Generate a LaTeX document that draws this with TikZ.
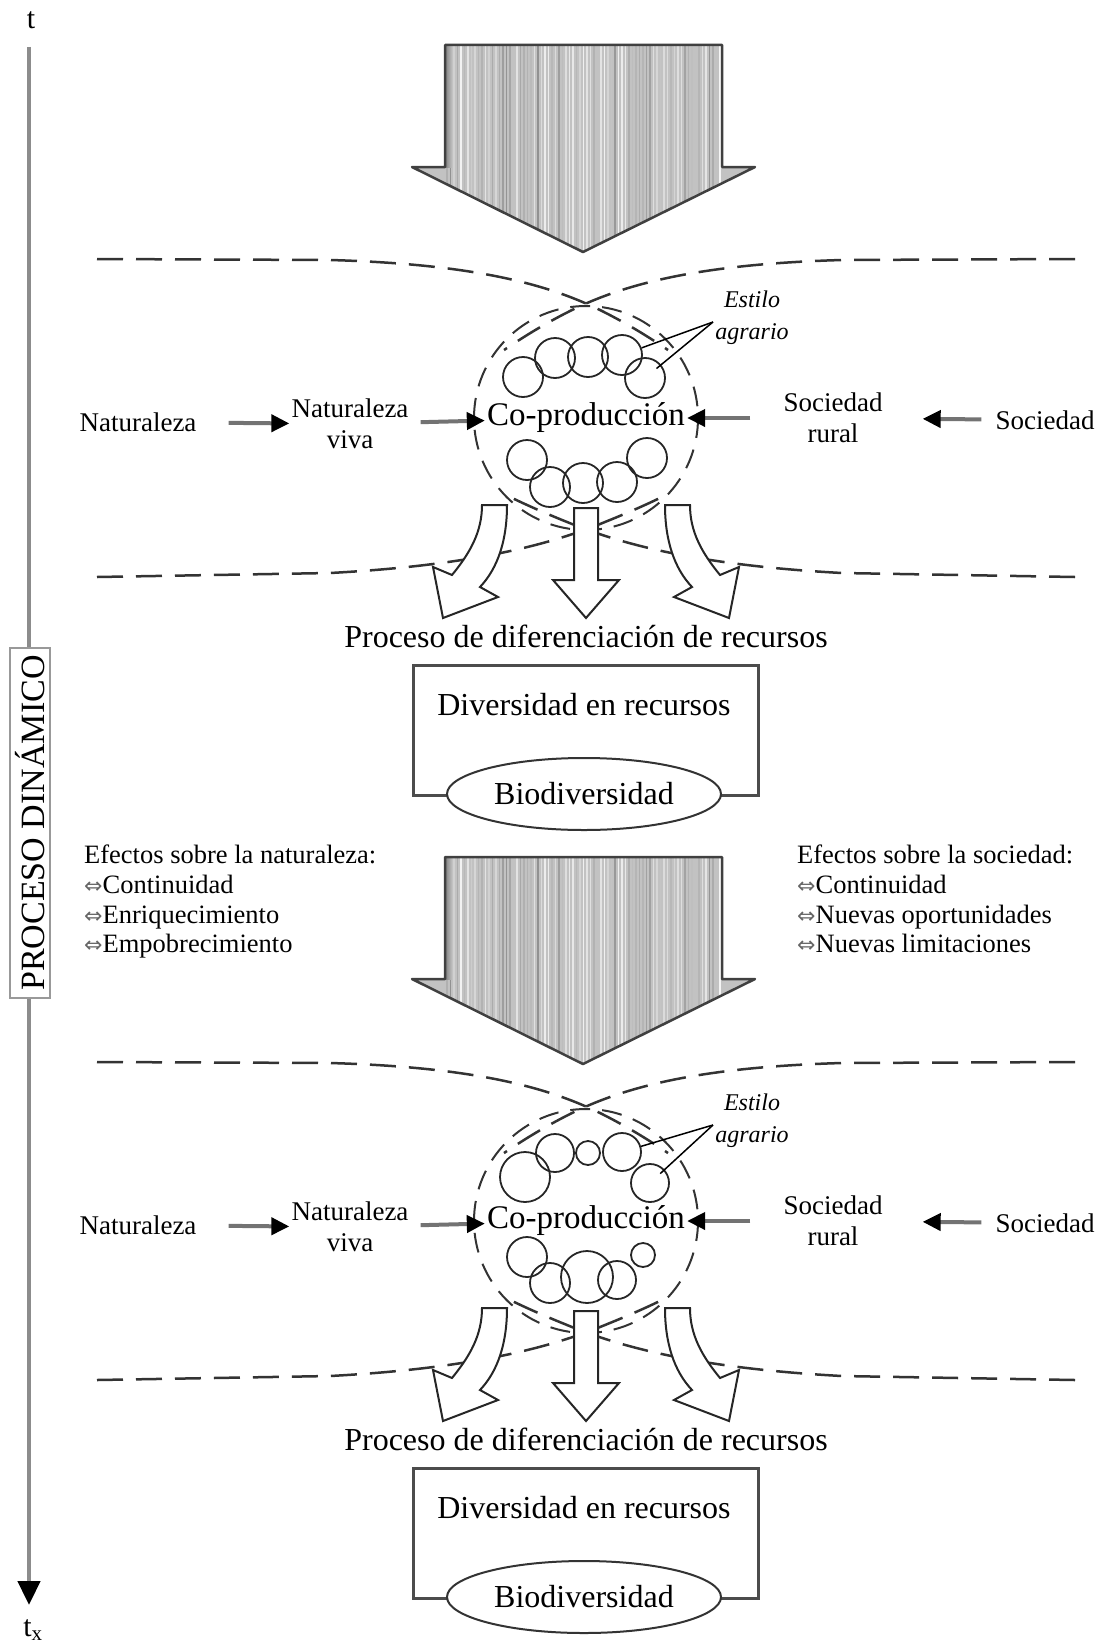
\documentclass[tikz,border=0pt]{standalone}
\usepackage{fontspec}
\setmainfont{Liberation Serif}
\newfontfamily\simbolos{DejaVu Sans}
\usetikzlibrary{arrows.meta,shapes.geometric,positioning}

\newcommand{\flechita}{{\simbolos\fontsize{22}{22}\selectfont\color{black!60}⇔}}

\tikzset{
  texto/.style={font=\fontsize{27}{31}\selectfont, align=center, inner sep=2pt},
  grande/.style={font=\fontsize{32}{36}\selectfont, inner sep=2pt},
  copro/.style={font=\fontsize{33}{36}\selectfont, inner sep=2pt},
  estilo/.style={font=\fontsize{24}{32}\selectfont\itshape, align=center, inner sep=0pt},
  efectos/.style={font=\fontsize{26.5}{29.7}\selectfont, align=left, inner sep=0pt, anchor=north west},
  flecha/.style={draw=black!55, line width=4pt, -{Triangle[width=17pt,length=18pt,color=black]}},
  eje/.style={draw=black!45, line width=4.5pt, -{Triangle[width=22pt,length=24pt,color=black]}},
  discontinua/.style={draw=black!80, line width=2.5pt, dash pattern=on 26pt off 13pt},
  circulo/.style={draw=black!80, line width=2pt, dash pattern=on 20pt off 12pt},
  anillo/.style={circle, draw=black!85, line width=1.8pt, inner sep=0pt},
  hueca/.style={fill=white, draw=black!85, line width=2pt},
  caja/.style={draw=black!70, line width=3pt},
  elipse/.style={ellipse, draw=black!80, line width=2pt, fill=white, minimum width=274pt,
    minimum height=72pt, inner sep=0pt, font=\fontsize{32}{36}\selectfont},
  puntero/.style={draw=black, line width=1.5pt},
  contorno/.style={draw=black!75, line width=2.5pt, line join=round},
  rotulo/.style={rotate=90, draw=black!40, line width=1.5pt, fill=white, minimum width=350pt,
    minimum height=40pt, inner sep=0pt, font=\fontsize{34}{36}\selectfont},
}

\begin{document}
\begin{tikzpicture}[x=1pt, y=-1pt]
    \useasboundingbox (0,0) rectangle (1105,1646);

    \node[font=\fontsize{30}{30}\selectfont] (t) at (31,20) {t};
    \node[font=\fontsize{30}{30}\selectfont] (tx) at (33,1630) {t\textsubscript{x}};
    \coordinate (ejeA) at (29,47);
    \coordinate (ejeB) at (29,1605);
    \draw[eje] (ejeA) -- (ejeB);
    \node[rotulo] (pd) at (30,823) {PROCESO DINÁMICO};

    \foreach \s/\oy/\ay in {1/0/0, 2/803/812} {
      \begin{scope}[shift={(0,\ay)}]
        \begin{scope}
          \clip (445,45) -- (722,45) -- (722,167) -- (755,167) -- (583,252) -- (412,167) -- (445,167) -- cycle;
          \fill[black!24] (412,45) rectangle (755,252);
          \pgfmathsetseed{11}
          \foreach \x in {447,450.5,...,721} {
            \pgfmathsetmacro\tono{int(4+42*rnd)}
            \draw[black!\tono, line width=1.1pt] (\x,40) -- (\x,260);
          }
          \shade[left color=black!50, right color=black!24] (445,45) rectangle (452,167);
        \end{scope}
        \draw[contorno] (445,45) -- (722,45) -- (722,167) -- (755,167) -- (583,252) -- (412,167) -- (445,167) -- cycle;
      \end{scope}

      \begin{scope}[shift={(0,\oy)}]
        \draw[discontinua] (97,259) -- (330,260) .. controls (470,264) and (545,283) .. (600,310) .. controls (630,325) and (650,338) .. (668,350);
        \draw[discontinua] (1075,259) -- (842,260) .. controls (702,264) and (627,283) .. (572,310) .. controls (542,325) and (522,338) .. (504,350);
        \draw[discontinua] (97,577) -- (330,573) .. controls (460,566) and (540,548) .. (600,524) .. controls (630,512) and (650,503) .. (668,494);
        \draw[discontinua] (1075,577) -- (842,573) .. controls (712,566) and (632,548) .. (572,524) .. controls (542,512) and (522,503) .. (504,494);

        \node[texto] (nat\s) at (138,422) {Naturaleza};
        \node[texto] (natv\s) at (350,424) {Naturaleza\\viva};
        \node[copro] (cop\s) at (586,418) {Co-producción};
        \node[texto] (socr\s) at (833,418) {Sociedad\\rural};
        \node[texto] (soc\s) at (1045,420) {Sociedad};
        \draw[circulo] (cop\s.center) circle[radius=112];

        \draw[flecha, shorten <=30pt] (nat\s) -- (natv\s);
        \draw[flecha, shorten <=10pt] (natv\s) -- (cop\s);
        \draw[flecha, shorten <=31pt] (socr\s) -- (cop\s);
        \draw[flecha, shorten <=12pt, shorten >=38pt] (soc\s) -- (socr\s);

        \node[estilo] (est\s) at (752,318) {Estilo\\agrario};
        \coordinate (vert\s) at (713,322);

        \draw[hueca] (482,505) -- (507,505) .. controls (507,540) and (498,568) .. (480,587) -- (498,597) -- (443,618) -- (433,567) -- (452,575) .. controls (470,553) and (482,532) .. (482,505) -- cycle;
        \draw[hueca] (574,508) -- (598,508) -- (598,580) -- (619,580) -- (586,618) -- (553,580) -- (574,580) -- cycle;
        \draw[hueca] (690,505) -- (665,505) .. controls (665,540) and (674,568) .. (692,587) -- (674,597) -- (729,618) -- (739,567) -- (720,575) .. controls (702,553) and (690,532) .. (690,505) -- cycle;

        \node[grande] (proc\s) at (586,636) {Proceso de diferenciación de recursos};
        \draw[caja] (413,665) rectangle (758,795);
        \node[grande] (div\s) at (584,705) {Diversidad en recursos};
        \node[elipse] (bio\s) at (584,794) {Biodiversidad};
      \end{scope}
    }

    \foreach \cx/\cy/\r [count=\k] in {523/377/20, 555/358/20, 588/357/20, 622/355/20, 645/378/20,
        527/460/20, 550/487/20, 583/483/20, 617/482/20, 647/458/20}
      \node[anillo, minimum size={2*\r pt}] (a1-\k) at (\cx,\cy) {};
    \draw[puntero] (vert1) -- (a1-4);
    \draw[puntero, shorten >=-6pt] (vert1) -- (a1-5);

    \foreach \cx/\cy/\r [count=\k] in {525/1177/25, 555/1153/19, 588/1153/12, 622/1152/19, 650/1183/19,
        527/1257/20, 550/1283/20, 587/1277/26, 617/1280/19, 643/1255/12}
      \node[anillo, minimum size={2*\r pt}] (a2-\k) at (\cx,\cy) {};
    \draw[puntero] (vert2) -- (a2-4);
    \draw[puntero, shorten >=-6pt] (vert2) -- (a2-5);

    \node[efectos] (efn) at (84,845) {Efectos sobre la naturaleza:\\\flechita Continuidad\\\flechita Enriquecimiento\\\flechita Empobrecimiento};
    \node[efectos] (efs) at (797,845) {Efectos sobre la sociedad:\\\flechita Continuidad\\\flechita Nuevas oportunidades\\\flechita Nuevas limitaciones};
\end{tikzpicture}
\end{document}
